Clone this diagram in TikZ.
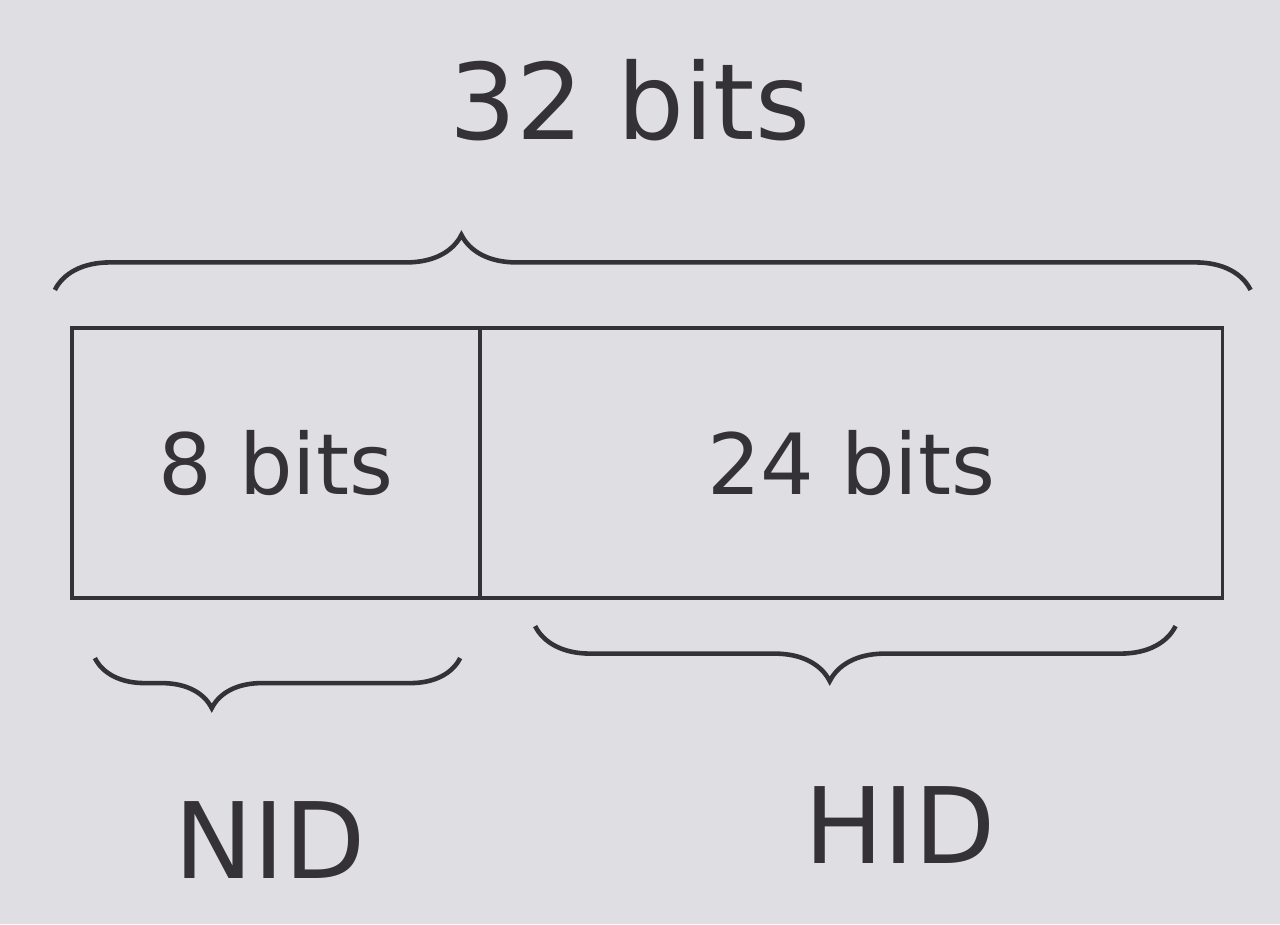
\documentclass[tikz,border=0pt]{standalone}
\usepackage{fontspec}
\setsansfont{DejaVu Sans}
\usepackage{tikz}
\usetikzlibrary{positioning,calc}
\usetikzlibrary{decorations.pathreplacing}
\definecolor{paper}{RGB}{223,222,227}
\definecolor{ink}{RGB}{52,50,54}
\tikzset{
    cell/.style={draw=ink, line width=1pt, rectangle, minimum height=2.7cm, inner sep=0pt,
        outer sep=0pt, text=ink, font=\sffamily\fontsize{24}{28}\selectfont},
    curly/.style={draw=ink, line width=1.3pt, decorate},
    tag/.style={text=ink, font=\sffamily\fontsize{30}{34}\selectfont}
}
\begin{document}
\begin{tikzpicture}[x=0.01cm,y=-0.01cm]
    % paper background
    \fill[paper] (0,0) rectangle (1280,924);
    \useasboundingbox (0,0) rectangle (1280,924);
    % the two fields of the address
    \node[cell, minimum width=4.08cm] (nidbox) at (276,463) {8 bits};
    \node[cell, minimum width=7.42cm, right=0pt of nidbox] (hidbox) {24 bits};
    % whole width brace
    \draw[curly, decoration={brace, amplitude=0.55cm, aspect=0.34}]
        ($(nidbox.north west)+(-17,-38)$) -- ($(hidbox.north east)+(28,-38)$);
    \node[tag] (total) at (630,100) {32 bits};
    % lower braces
    \draw[curly, decoration={brace, amplitude=0.5cm, aspect=0.68}]
        ($(nidbox.south east)+(-20,60)$) -- ($(nidbox.south west)+(23,60)$);
    \draw[curly, decoration={brace, amplitude=0.55cm, aspect=0.54}]
        ($(hidbox.south east)+(-47,28)$) -- ($(hidbox.south west)+(55,28)$);
    % labels
    \node[tag] (nid) at (270,840) {NID};
    \node[tag] (hid) at (900,825) {HID};
\end{tikzpicture}
\end{document}
